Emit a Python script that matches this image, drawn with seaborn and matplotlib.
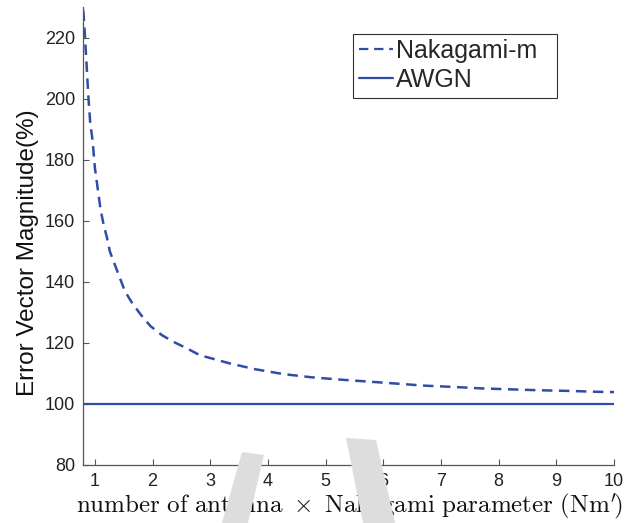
import numpy as np
import pandas as pd
import matplotlib
matplotlib.use("Agg")
import matplotlib.pyplot as plt
import seaborn as sns
from matplotlib.patches import Polygon, Rectangle

# Error vector magnitude (%) versus N*m'
nm_nakagami = [0.80, 0.83, 0.86, 0.89, 0.92, 0.96, 1.00, 1.05, 1.10, 1.15, 1.21,
               1.26, 1.35, 1.44, 1.52, 1.65, 1.80, 1.96, 2.16, 2.36, 2.59, 2.82,
               3.34, 3.78, 4.27, 4.76, 5.25, 6.00, 6.73, 7.21, 7.72, 8.21, 8.71,
               9.20, 9.70, 10.0]
evm_nakagami = [229.0, 220.0, 210.0, 200.0, 192.0, 186.5, 177.5, 170.5, 163.6,
                159.0, 154.5, 150.0, 145.5, 141.0, 137.0, 133.0, 129.2, 125.6,
                122.6, 120.4, 118.3, 116.0, 113.3, 111.4, 109.8, 108.75, 108.0,
                107.0, 106.0, 105.6, 105.1, 104.8, 104.5, 104.3, 104.0, 103.9]
nm_awgn = [0.8, 10.0]
evm_awgn = [100.0, 100.0]
series_names = ["Nakagami-m", "AWGN"]
x_ticks = list(range(1, 11))
y_ticks = list(range(80, 221, 20))

df = pd.concat([
    pd.DataFrame({"x": nm_nakagami, "y": evm_nakagami, "series": series_names[0]}),
    pd.DataFrame({"x": nm_awgn, "y": evm_awgn, "series": series_names[1]}),
], ignore_index=True)

sns.set_theme(style="white")
plt.rcParams["font.family"] = ["Liberation Sans", "DejaVu Sans"]
plt.rcParams["mathtext.fontset"] = "cm"

blue = "#2F4DA6"
W, H = 644, 523
fig = plt.figure(figsize=(W / 100, H / 100), dpi=100)


def px(points):
    # pixel coordinates measured from the top-left corner -> figure fraction
    return [(x / W, 1 - y / H) for x, y in points]


# faint grey background strokes near the bottom
for pts in ([(242, 452), (264, 455), (248, 523), (222, 523)],
            [(346, 438), (376, 440), (395, 523), (363, 523)]):
    fig.patches.append(Polygon(px(pts), closed=True, transform=fig.transFigure,
                               facecolor="#DDDDDD", edgecolor="none", zorder=0))

ax = fig.add_axes([0.1294, 0.1109, 0.9534 - 0.1294, 0.9857 - 0.1109])
ax.patch.set_alpha(0)

sns.lineplot(data=df, x="x", y="y", hue="series", style="series",
             palette={series_names[0]: blue, series_names[1]: blue},
             dashes={series_names[0]: (4.2, 2.6), series_names[1]: ""},
             linewidth=1.8, ax=ax, sort=False, estimator=None)
for ln in ax.lines:
    if ln.get_linestyle() == "-":
        ln.set_linewidth(1.6)

ax.set_xlim(0.8, 10)
ax.set_ylim(80, 230)
ax.set_xticks(x_ticks)
ax.set_yticks(y_ticks)
ax.tick_params(direction="in", length=4, width=0.8, color="#555555",
               labelsize=13, labelcolor="#222222", pad=6,
               bottom=True, left=True)
for side in ["top", "right"]:
    ax.spines[side].set_visible(False)
for side in ["left", "bottom"]:
    ax.spines[side].set_color("#555555")
    ax.spines[side].set_linewidth(0.9)

ax.set_ylabel("Error Vector Magnitude(%)", fontsize=17.5, color="#111111")
ax.yaxis.set_label_coords(-0.083, 0.463)
ax.set_xlabel(r"$\mathrm{number\ of\ antenna}\ \times\ \mathrm{Nakagami\ parameter\ (Nm'\!)}$",
              fontsize=18, color="#111111", labelpad=1)

# legend entries, with a separate square frame around them
leg = ax.legend(loc="upper left", bbox_to_anchor=(0.508, 0.945), fontsize=18,
                frameon=False, handlelength=1.35, handletextpad=0.12,
                borderpad=0.25, labelspacing=0.2, borderaxespad=0)
for h in leg.get_lines():
    h.set_linewidth(1.6)
(x0, y0), (x1, y1) = px([(353, 98), (557, 34)])
fig.patches.append(Rectangle((x0, y0), x1 - x0, y1 - y0, transform=fig.transFigure,
                             facecolor="none", edgecolor="#333333", linewidth=0.8,
                             zorder=5))

fig.savefig("out.png", dpi=100)
